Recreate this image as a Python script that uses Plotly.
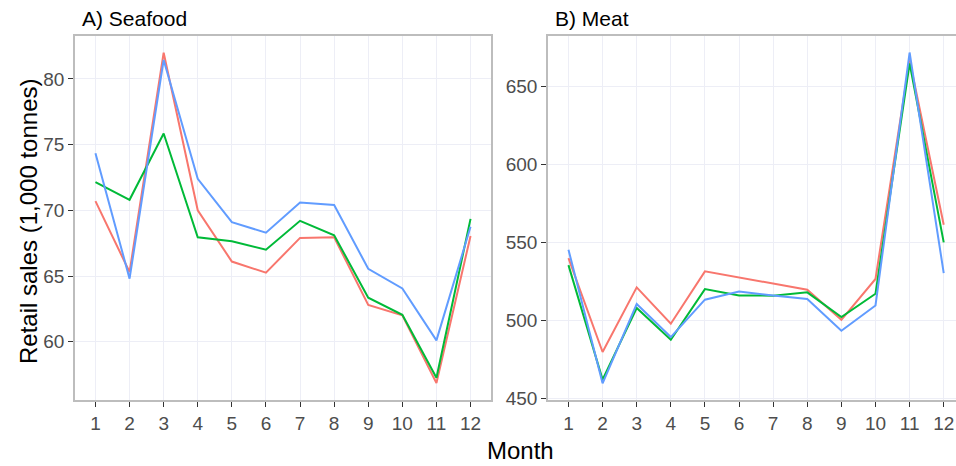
import plotly.graph_objects as go

months = list(range(1, 13))
month_labels = [str(m) for m in months]

series_names = ["Series 1", "Series 2", "Series 3"]
series_colors = ["#F8766D", "#00BA38", "#619CFF"]

seafood_red = [70.7, 65.3, 82.0, 70.0, 66.1, 65.25, 67.9, 67.95, 62.8, 62.0, 56.85, 68.05]
seafood_green = [72.15, 70.8, 75.85, 67.95, 67.65, 67.0, 69.2, 68.1, 63.35, 62.05, 57.25, 69.35]
seafood_blue = [74.35, 64.8, 81.45, 72.4, 69.1, 68.3, 70.6, 70.4, 65.55, 64.05, 60.1, 68.75]

meat_red = [540.0, 479.7, 521.2, 497.9, 531.5, 527.5, 523.6, 519.7, 500.4, 526.6, 667.0, 561.4]
meat_green = [535.5, 462.0, 508.0, 487.6, 520.1, 516.0, 515.9, 518.0, 502.2, 517.1, 665.0, 550.1]
meat_blue = [545.4, 459.6, 510.5, 489.3, 513.3, 518.6, 516.0, 513.7, 493.4, 509.6, 672.0, 530.4]

seafood = [seafood_red, seafood_green, seafood_blue]
meat = [meat_red, meat_green, meat_blue]

FONT = "Liberation Sans, Arial, Helvetica, sans-serif"
GRID = "#EDEEF6"
BORDER = "#BDBDBD"
TICKC = "#333333"
LABC = "#4D4D4D"

fig = go.Figure()
for name, col, ys in zip(series_names, series_colors, seafood):
    fig.add_trace(go.Scatter(x=months, y=ys, mode="lines", name=name,
                             line=dict(color=col, width=2), showlegend=False,
                             xaxis="x", yaxis="y"))
for name, col, ys in zip(series_names, series_colors, meat):
    fig.add_trace(go.Scatter(x=months, y=ys, mode="lines", name=name,
                             line=dict(color=col, width=2), showlegend=False,
                             xaxis="x2", yaxis="y2"))

W, H = 956, 466
ML, MR, MT, MB = 75, 0, 36, 66
PW = W - ML - MR
PH = H - MT - MB

def px_x(p):
    return (p - ML) / PW

def px_y(p):
    return (H - MB - p) / PH

xcommon = dict(tickmode="array", tickvals=months, ticktext=month_labels,
               showgrid=True, gridcolor=GRID, gridwidth=1, zeroline=False,
               ticks="outside", ticklen=5, tickwidth=1.3, tickcolor=TICKC,
               tickfont=dict(family=FONT, size=19, color=LABC),
               showline=True, linecolor=BORDER, linewidth=1.5, mirror=True)
ycommon = dict(showgrid=True, gridcolor=GRID, gridwidth=1, zeroline=False,
               ticks="outside", ticklen=5, tickwidth=1.3, tickcolor=TICKC,
               tickfont=dict(family=FONT, size=19, color=LABC),
               showline=True, linecolor=BORDER, linewidth=1.5)

fig.update_layout(
    width=W, height=H,
    margin=dict(l=ML, r=MR, t=MT, b=MB),
    paper_bgcolor="white", plot_bgcolor="white",
    font=dict(family=FONT),
    xaxis=dict(domain=[0, px_x(491)], range=[0.4, 12.6], anchor="y", **xcommon),
    yaxis=dict(domain=[0, 1], range=[55.56, 83.27], anchor="x",
               tickmode="array", tickvals=[60, 65, 70, 75, 80], mirror=True, **ycommon),
    xaxis2=dict(domain=[px_x(548), 1], range=[0.4, 12.36], anchor="y2", **xcommon),
    yaxis2=dict(domain=[0, 1], range=[448.9, 682.6], anchor="x2",
                tickmode="array", tickvals=[450, 500, 550, 600, 650], mirror=False, **ycommon),
    annotations=[
        dict(text="A) Seafood", xref="paper", yref="paper", x=px_x(80), y=px_y(19),
             xanchor="left", yanchor="middle", showarrow=False,
             font=dict(family=FONT, size=21, color="black")),
        dict(text="B) Meat", xref="paper", yref="paper", x=px_x(553), y=px_y(19),
             xanchor="left", yanchor="middle", showarrow=False,
             font=dict(family=FONT, size=21, color="black")),
        dict(text="Month", xref="paper", yref="paper", x=px_x(520), y=px_y(450),
             xanchor="center", yanchor="middle", showarrow=False,
             font=dict(family=FONT, size=24, color="black")),
        dict(text="Retail sales (1,000 tonnes)", xref="paper", yref="paper",
             x=px_x(28), y=px_y(221), textangle=-90,
             xanchor="center", yanchor="middle", showarrow=False,
             font=dict(family=FONT, size=24, color="black")),
    ],
)

fig.write_html("out.html",
               config={"displayModeBar": False},
               post_script="document.body.style.margin='0px';document.body.style.padding='0px';")
